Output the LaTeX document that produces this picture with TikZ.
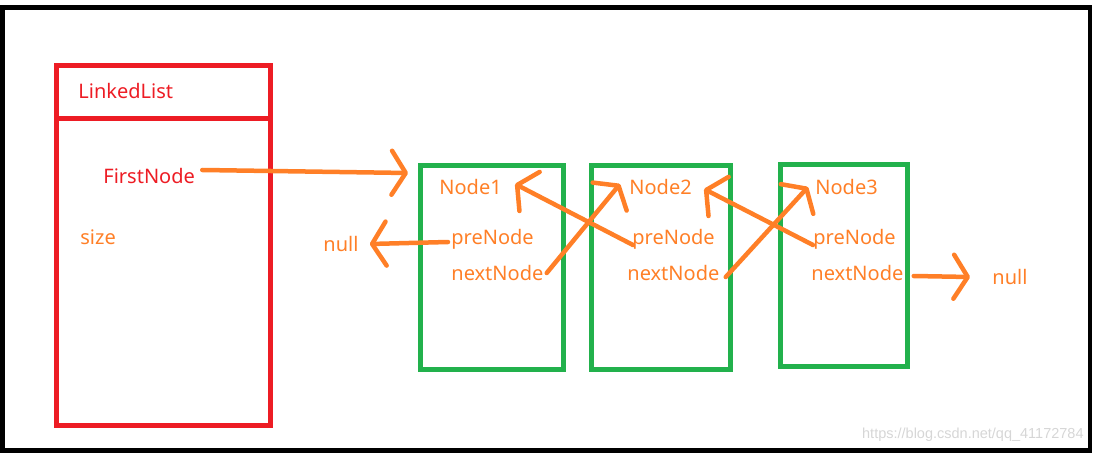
\documentclass[tikz,border=0pt]{standalone}
\usepackage{fontspec}
\setmainfont{Noto Sans}
\newfontfamily\markfont{Liberation Sans}
\usetikzlibrary{arrows.meta}
\definecolor{listred}{HTML}{ED1C24}
\definecolor{nodegreen}{HTML}{22B14C}
\definecolor{ptrorange}{HTML}{FF7F27}

\begin{document}
\begin{tikzpicture}[x=1pt,y=-1pt,>={Straight Barb[length=14pt,width=44pt,round]},
  thick,
  ptr/.style={->,draw=ptrorange,line width=4.5pt,line cap=round},
  box/.style={rectangle,draw=nodegreen,line width=5pt,inner sep=0pt},
  txt/.style={anchor=west,inner sep=0pt,text=ptrorange,font=\fontsize{20}{23}\selectfont}]

            \useasboundingbox (0,0) rectangle (1094,454);
            \draw[line width=4.5pt] (2.5,7.5) rectangle (1090,450.5);

            % LinkedList
            \node[rectangle, draw=listred, line width=5pt, minimum width=214pt, minimum height=360pt] (list) at (163.5,245.5) {};
            \draw[listred, line width=5pt] (list.west |- 0,118.5) -- (list.east |- 0,118.5);
            \node[txt, text=listred] (title) at (78,91) {LinkedList};
            \node[txt, text=listred] (first) at (103,176) {FirstNode};
            \node[txt] (size) at (80,237) {size};

            % nodes
            \node[box, minimum width=143pt, minimum height=204pt] (b1) at (492,267.5) {};
            \node[box, minimum width=139pt, minimum height=204pt] (b2) at (661,267.5) {};
            \node[box, minimum width=127pt, minimum height=202pt] (b3) at (844,265.5) {};

            \node[txt] (n1) at (439,187) {Node1};
            \node[txt] (pre1) at (451,239) {preNode};
            \node[txt] (next1) at (451,273) {nextNode};

            \node[txt] (n2) at (629,187) {Node2};
            \node[txt] (pre2) at (632,239) {preNode};
            \node[txt] (next2) at (627,273) {nextNode};

            \node[txt] (n3) at (815,187) {Node3};
            \node[txt] (pre3) at (813,239) {preNode};
            \node[txt] (next3) at (811,273) {nextNode};

            \node[txt] (null1) at (323,244) {null};
            \node[txt] (null2) at (992,277) {null};

            \coordinate (in1) at (408,173);

            % pointers
            \draw[ptr] (first.east) ++(7,-6) -- (in1);
            \draw[ptr] (pre1.west) ++(-3,3) -- ([xshift=11pt]null1.east);
            \draw[ptr] (next1.east) ++(3,0) -- ([xshift=-9pt,yshift=3pt]n2.west);
            \draw[ptr] (pre2.west) ++(1,6) -- ([xshift=13pt,yshift=3pt]n1.east);
            \draw[ptr] (next2.east) ++(6,4) -- ([xshift=-7pt]n3.west);
            \draw[ptr] (pre3.west) ++(0,6) -- ([xshift=12pt,yshift=-2pt]n2.east);
            \draw[ptr] (next3.east) ++(10,3) -- ([xshift=-22pt]null2.west);

            \node[anchor=east, inner sep=0pt, text=black!16, font=\fontsize{14.5}{17}\markfont] (mark) at (1084,435) {https://blog.csdn.net/qq\_41172784};

            ;
        \end{tikzpicture}
\end{document}
